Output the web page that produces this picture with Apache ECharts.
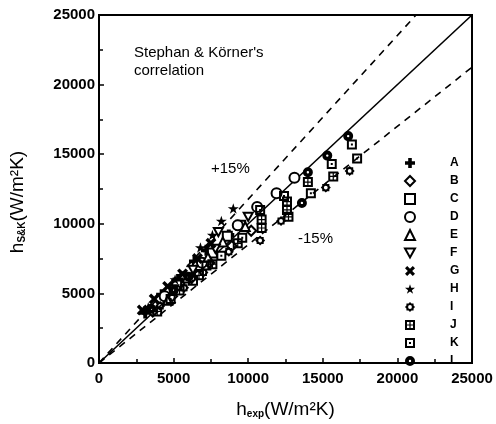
<!DOCTYPE html>
<html><head><meta charset="utf-8">
<script src="https://cdn.jsdelivr.net/npm/echarts@6/dist/echarts.min.js"></script>
<style>html,body{margin:0;padding:0;background:#fff}#c{width:496px;height:424px}</style>
</head><body><div id="c"></div>
<script>
// ---- data (W/m2K): [h_exp, h_S&K]
const seriesNames = ['A','B','C','D','E','F','G','H','I','J','K','L'];
const dataA = [[3100,3600],[4200,4900],[5300,6000],[6400,7300],[7200,8100],[8700,9200]];
const dataB = [[3600,3700],[4900,4800],[6200,6100],[7400,7200],[8900,8400],[10200,9500]];
const dataC = [[5200,5600],[6600,7000],[7600,7900],[8600,9100],[9500,9900]];
const dataD = [[4400,4800],[6900,7200],[9300,9900],[10600,11200],[11900,12200],[13100,13300]];
const dataE = [[4600,4500],[5900,6100],[7300,7600],[8300,8700],[9800,9800]];
const dataF = [[5000,5300],[6300,6700],[7800,8200],[8000,9400],[10000,10500]];
const dataG = [[2900,3800],[3700,4600],[4600,5500],[5600,6400],[6600,7500],[7500,8600]];
const dataH = [[3300,4000],[5100,6000],[6800,8300],[7600,9200],[8200,10200],[9000,11100]];
const dataI = [[4100,4100],[5700,5400],[7000,6500],[8700,8000],[10800,8800],[12200,10200],[15200,12600],[16800,13800]];
const dataJ = [[3900,3700],[5400,5200],[6700,6300],[7600,7100],[9300,8600],[10900,10300],[10900,9700],[12600,11600],[12600,11000],[12700,10500],[14000,13000],[15700,13400]];
const dataK = [[4800,4600],[6300,5900],[7200,7000],[8200,7700],[9600,9000],[10800,11000],[12400,12000],[14200,12200],[15600,14300],[16950,15700],[17300,14700]];
const dataL = [[3500,3900],[5000,5200],[6000,6200],[13600,11500],[14000,13700],[15300,14900],[16700,16300]];
const perfectLine = [[0,0],[25000,25000]];
const plusLine = [[0,0],[21250,25000]];
const minusLine = [[0,0],[25000,21250]];
const axisTicks = [0,5000,10000,15000,20000,25000];

// ---- symbols
function gearPath(){
  let p='M';
  for(let i=0;i<16;i++){
    const a=i*Math.PI/8 - Math.PI/2, r=(i%2===0)?5:3.9;
    p+=(5+r*Math.cos(a)).toFixed(2)+','+(5+r*Math.sin(a)).toFixed(2)+(i<15?'L':'Z');
  }
  p+='M5,3.1A1.9,1.9 0 1,0 5,6.9A1.9,1.9 0 1,0 5,3.1Z';
  return 'path://'+p;
}
const sym = {
  A:{s:'path://M3.2,0H6.8V3.2H10V6.8H6.8V10H3.2V6.8H0V3.2H3.2Z', fill:'#000', size:11},
  B:{s:'diamond', fill:'#fff', size:10},
  C:{s:'rect', fill:'#fff', size:9},
  D:{s:'circle', fill:'#fff', size:10},
  E:{s:'triangle', fill:'#fff', size:9},
  F:{s:'path://M0,0H10L5,9Z', fill:'#fff', size:9},
  G:{s:'path://M0,2.2L2.2,0L5,2.8L7.8,0L10,2.2L7.2,5L10,7.8L7.8,10L5,7.2L2.2,10L0,7.8L2.8,5Z', fill:'#000', size:11},
  H:{s:'path://M5,0L6.2,3.6L10,3.6L6.9,5.9L8.1,9.5L5,7.3L1.9,9.5L3.1,5.9L0,3.6L3.8,3.6Z', fill:'#000', size:11},
  I:{s:gearPath(), fill:'#000', size:10},
  J:{s:'path://M0,0H10V10H0ZM2,2V4.4H4.4V2ZM5.6,2V4.4H8V2ZM2,5.6V8H4.4V5.6ZM5.6,5.6V8H8V5.6Z', fill:'#000', size:10},
  K:{s:'path://M0,0H10V10H0ZM2,2V8H8V2ZM4,4H6V6H4Z', fill:'#000', size:10},
  L:{s:'path://M5,0A5,5 0 1,1 5,10A5,5 0 1,1 5,0ZM5,3.8A1.2,1.2 0 1,0 5,6.2A1.2,1.2 0 1,0 5,3.8Z', fill:'#000', size:10}
};
const allData = {A:dataA,B:dataB,C:dataC,D:dataD,E:dataE,F:dataF,G:dataG,H:dataH,I:dataI,J:dataJ,K:dataK,L:dataL};

const FONT = '"Liberation Sans", Arial, sans-serif';
const scatter = seriesNames.map(n => ({
  name:n, type:'scatter', data:allData[n], symbol:sym[n].s, symbolSize:sym[n].size,
  symbolKeepAspect:true, z:5,
  itemStyle:{color:sym[n].fill, borderColor:'#000', borderWidth: sym[n].fill==='#fff'?2:0, opacity:1}
}));
function refLine(d, dashed){
  return {type:'line', data:d, symbol:'none', silent:true, z:2, animation:false,
    lineStyle:{color:'#000', width:1.6, type: dashed?[7,6]:'solid'}};
}
const nameRich = {
  n:{fontFamily:FONT, fontSize:19, color:'#000'},
  s:{fontFamily:FONT, fontSize:10, fontWeight:'bold', color:'#000', verticalAlign:'bottom', padding:[9,0,0,0]}
};

const chart = echarts.init(document.getElementById('c'), null, {renderer:'canvas'});
const axisCommon = {
  min:0, max:25000, interval:5000,
  axisLine:{show:true, lineStyle:{color:'#000', width:2}},
  axisTick:{show:true, inside:true, length:5, lineStyle:{color:'#000', width:1.5}},
  minorTick:{show:true, splitNumber:2, length:4, lineStyle:{color:'#000', width:1.5}},
  splitLine:{show:false},
  axisLabel:{color:'#000', fontFamily:FONT, fontWeight:'bold', fontSize:15,
    formatter:v => axisTicks.includes(v) ? String(v) : ''}
};
chart.setOption({
  animation:false,
  backgroundColor:'#fff',
  grid:{left:96, right:24, top:15, bottom:50, show:true, borderColor:'#000', borderWidth:2},
  xAxis:Object.assign({}, axisCommon, {
    type:'value', name:'{n|h}{s|exp}{n|(W/m²K)}', nameLocation:'middle', nameGap:37,
    nameTextStyle:{rich:nameRich},
    axisLabel:Object.assign({}, axisCommon.axisLabel, {margin:8})
  }),
  yAxis:Object.assign({}, axisCommon, {
    type:'value', name:'{n|h}{s|S&K}{n|(W/m²K)}', nameLocation:'middle', nameGap:72,
    nameTextStyle:{rich:nameRich, padding:[0,26,0,0]},
    axisLabel:Object.assign({}, axisCommon.axisLabel, {margin:4})
  }),
  legend:{
    orient:'vertical', left:399, top:152, data:seriesNames,
    itemWidth:10, itemHeight:10, itemGap:6,
    textStyle:{fontFamily:FONT, fontWeight:'bold', fontSize:12, color:'#000', lineHeight:12, padding:[0,0,0,30]},
    selectedMode:false
  },
  graphic:[
    {type:'text', left:134, top:44, style:{text:"Stephan & Körner's\ncorrelation", font:'15px '+FONT, fill:'#000', lineHeight:18}},
    {type:'text', left:211, top:161, style:{text:'+15%', font:'15px '+FONT, fill:'#000'}},
    {type:'text', left:298, top:231, style:{text:'-15%', font:'15px '+FONT, fill:'#000'}}
  ],
  series:[refLine(perfectLine,false), refLine(plusLine,true), refLine(minusLine,true)].concat(scatter)
});
</script></body></html>
